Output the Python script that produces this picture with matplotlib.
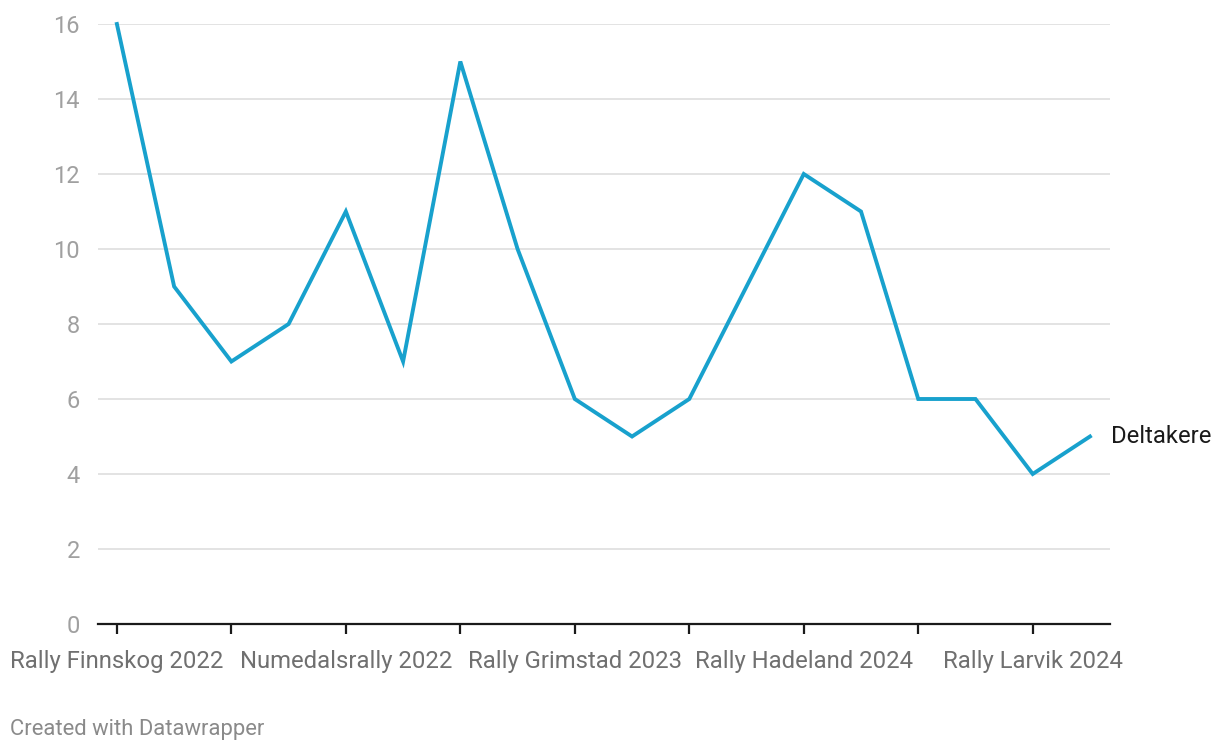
import matplotlib
matplotlib.use("Agg")
import matplotlib.pyplot as plt

values = [16, 9, 7, 8, 11, 7, 15, 10, 6, 5, 6, 9, 12, 11, 6, 6, 4, 5]
tick_labels = {0: "Rally Finnskog 2022", 4: "Numedalsrally 2022", 8: "Rally Grimstad 2023",
               12: "Rally Hadeland 2024", 16: "Rally Larvik 2024"}
series_name = "Deltakere"
y_ticks = [0, 2, 4, 6, 8, 10, 12, 14, 16]

plt.rcParams['font.family'] = ['Roboto', 'DejaVu Sans']

fig = plt.figure(figsize=(12.2, 7.5), dpi=100)
ax = fig.add_axes([98/1220, 126/750, 1012/1220, 600/750])

x = list(range(len(values)))
ax.plot(x, values, color='#18a1cd', lw=2.8, clip_on=False, solid_joinstyle='miter', zorder=3)

ax.set_xlim(-0.33, 17.35)
ax.set_ylim(0, 16)

ax.set_yticks(y_ticks)
ax.set_yticklabels([str(v) for v in y_ticks])
for v in y_ticks[1:]:
    ax.axhline(v, color='#e3e3e3', lw=1.4, zorder=1)

ticks = [i for i in x if i % 2 == 0]
ax.set_xticks(ticks)
ax.set_xticklabels([tick_labels.get(i, "") for i in ticks])

for s in ['top', 'right', 'left']:
    ax.spines[s].set_visible(False)
ax.spines['bottom'].set_color('#1a1a1a')
ax.spines['bottom'].set_linewidth(1.6)
ax.spines['bottom'].set_zorder(4)

ax.tick_params(axis='y', length=0, pad=13, labelsize=17, labelcolor='#a0a0a0')
ax.tick_params(axis='x', length=7.5, width=1.6, color='#1a1a1a', pad=11,
               labelsize=17.2, labelcolor='#707070', direction='out')

ax.text(17.36, values[-1], series_name, fontsize=17.2, color='#1a1a1a',
        va='center', ha='left')

fig.text(10/1220, 1 - 729/750, "Created with Datawrapper", fontsize=15.8,
         color='#8a8a8a', ha='left', va='center')

fig.savefig("out.png", dpi=100)
